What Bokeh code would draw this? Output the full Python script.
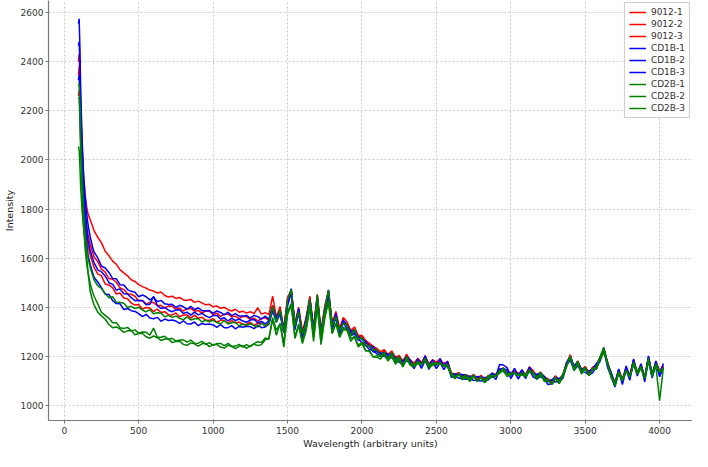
from bokeh.plotting import figure
from bokeh.models import Range1d, FixedTicker, Legend, LegendItem
from bokeh.embed import file_html
from bokeh.resources import INLINE

# ---- data ----
x_head = [95, 100, 105, 110, 120, 130, 140, 150, 160, 175, 190, 200]
x_tail = list(range(225, 4026, 25))
wavelength = x_head + x_tail

s9012_1 = [2400, 2430, 2330, 2200, 2050, 1930, 1860, 1810, 1780, 1755, 1730, 1712,
    1685, 1662, 1628, 1610, 1588, 1575, 1552, 1540, 1528, 1512,
    1505, 1492, 1484, 1478, 1470, 1466, 1458, 1462, 1448, 1442,
    1445, 1436, 1440, 1430, 1428, 1432, 1420, 1425, 1418, 1410,
    1412, 1402, 1405, 1396, 1400, 1390, 1385, 1392, 1380, 1384,
    1376, 1382, 1374, 1398, 1372, 1378, 1370,
    1445, 1360, 1403, 1312, 1440, 1470, 1335, 1400, 1303, 1359,
    1445, 1316, 1452, 1305, 1403, 1468, 1335, 1383, 1315, 1358,
    1340, 1305, 1320, 1285, 1285, 1265, 1252, 1242, 1232, 1219,
    1227, 1207, 1222, 1197, 1202, 1182, 1205, 1185, 1172, 1192,
    1175, 1200, 1170, 1186, 1175, 1190, 1166, 1180, 1133, 1128,
    1132, 1120, 1126, 1116, 1123, 1113, 1117, 1110, 1120, 1130,
    1125, 1143, 1150, 1135, 1130, 1146, 1125, 1142, 1125, 1158,
    1142, 1120, 1136, 1115, 1105, 1099, 1118, 1105, 1125, 1174,
    1204, 1156, 1181, 1145, 1156, 1135, 1150, 1166, 1196, 1233,
    1175, 1127, 1092, 1145, 1105, 1155, 1120, 1185, 1135, 1167,
    1115, 1194, 1130, 1177, 1137, 1164]

s9012_2 = [2345, 2380, 2290, 2150, 1990, 1870, 1790, 1735, 1695, 1655, 1625, 1605,
    1586, 1555, 1543, 1517, 1514, 1502, 1479, 1472, 1455, 1453,
    1445, 1425, 1428, 1413, 1420, 1419, 1406, 1408, 1397, 1405,
    1404, 1391, 1397, 1384, 1394, 1395, 1384, 1387, 1376, 1385,
    1384, 1370, 1376, 1363, 1372, 1373, 1361, 1364, 1354, 1363,
    1362, 1350, 1356, 1344, 1355, 1357, 1347,
    1405, 1358, 1387, 1310, 1432, 1466, 1334, 1391, 1296, 1348,
    1435, 1313, 1442, 1300, 1397, 1461, 1334, 1371, 1311, 1343,
    1330, 1303, 1307, 1280, 1284, 1251, 1254, 1234, 1231, 1208,
    1220, 1208, 1212, 1195, 1204, 1171, 1209, 1181, 1171, 1185,
    1170, 1203, 1162, 1186, 1177, 1181, 1172, 1176, 1132, 1119,
    1127, 1123, 1118, 1116, 1126, 1104, 1122, 1106, 1122, 1124,
    1121, 1149, 1146, 1136, 1133, 1137, 1130, 1138, 1127, 1147,
    1131, 1124, 1128, 1116, 1108, 1091, 1120, 1102, 1127, 1167,
    1199, 1159, 1173, 1146, 1158, 1127, 1155, 1162, 1197, 1227,
    1171, 1131, 1086, 1146, 1108, 1147, 1125, 1182, 1137, 1161,
    1111, 1199, 1123, 1178, 1140, 1157]

s9012_3 = [2260, 2285, 2210, 2080, 1920, 1810, 1740, 1690, 1650, 1612, 1582, 1562,
    1536, 1528, 1495, 1491, 1479, 1454, 1458, 1438, 1435, 1417,
    1409, 1411, 1393, 1399, 1397, 1382, 1393, 1379, 1382, 1370,
    1369, 1377, 1361, 1369, 1369, 1356, 1368, 1356, 1359, 1348,
    1346, 1354, 1339, 1347, 1347, 1334, 1347, 1336, 1340, 1330,
    1330, 1339, 1326, 1335, 1336, 1324, 1338,
    1409, 1344, 1391, 1296, 1428, 1466, 1331, 1383, 1290, 1342,
    1439, 1299, 1446, 1286, 1393, 1461, 1331, 1363, 1305, 1337,
    1334, 1289, 1311, 1266, 1280, 1251, 1251, 1226, 1225, 1202,
    1224, 1194, 1216, 1181, 1200, 1171, 1206, 1173, 1165, 1179,
    1174, 1189, 1166, 1172, 1173, 1181, 1169, 1168, 1130, 1117,
    1135, 1113, 1126, 1106, 1126, 1108, 1123, 1102, 1120, 1122,
    1129, 1139, 1154, 1126, 1133, 1141, 1131, 1134, 1125, 1145,
    1139, 1114, 1136, 1106, 1108, 1095, 1121, 1098, 1125, 1165,
    1207, 1149, 1181, 1136, 1158, 1131, 1156, 1158, 1195, 1225,
    1179, 1121, 1094, 1136, 1108, 1151, 1126, 1178, 1135, 1159,
    1119, 1189, 1131, 1168, 1140, 1161]

cd1b_1 = [2555, 2575, 2460, 2290, 2080, 1940, 1850, 1785, 1735, 1685, 1645, 1625,
    1601, 1568, 1560, 1542, 1517, 1516, 1492, 1491, 1472, 1465,
    1461, 1443, 1450, 1443, 1430, 1440, 1423, 1428, 1414, 1411,
    1412, 1399, 1408, 1402, 1392, 1404, 1390, 1398, 1386, 1386,
    1387, 1375, 1385, 1379, 1369, 1380, 1366, 1374, 1364, 1364,
    1367, 1356, 1367, 1362, 1352, 1364, 1351,
    1400, 1357, 1387, 1309, 1417, 1476, 1323, 1395, 1284, 1353,
    1430, 1312, 1442, 1299, 1382, 1471, 1323, 1375, 1299, 1348,
    1325, 1302, 1307, 1279, 1269, 1261, 1243, 1238, 1219, 1213,
    1215, 1207, 1212, 1194, 1189, 1181, 1198, 1185, 1159, 1190,
    1165, 1202, 1162, 1185, 1162, 1191, 1161, 1180, 1124, 1128,
    1126, 1126, 1122, 1119, 1115, 1118, 1115, 1114, 1114, 1133,
    1120, 1167, 1165, 1154, 1122, 1151, 1123, 1146, 1119, 1156,
    1130, 1127, 1132, 1119, 1097, 1105, 1113, 1110, 1119, 1176,
    1198, 1162, 1177, 1149, 1147, 1141, 1148, 1170, 1189, 1236,
    1170, 1134, 1090, 1149, 1097, 1161, 1118, 1190, 1129, 1170,
    1110, 1202, 1127, 1181, 1129, 1171]

cd1b_2 = [2465, 2480, 2390, 2230, 2025, 1885, 1790, 1722, 1672, 1630, 1600, 1582,
    1552, 1544, 1527, 1500, 1493, 1470, 1474, 1455, 1454, 1439,
    1427, 1429, 1427, 1410, 1412, 1445, 1408, 1395, 1399, 1388,
    1382, 1389, 1390, 1375, 1380, 1368, 1380, 1369, 1375, 1365,
    1358, 1366, 1367, 1352, 1357, 1344, 1356, 1346, 1352, 1344,
    1339, 1348, 1350, 1337, 1343, 1332, 1346,
    1401, 1349, 1377, 1296, 1425, 1458, 1322, 1375, 1288, 1344,
    1431, 1304, 1432, 1286, 1390, 1453, 1322, 1355, 1303, 1339,
    1326, 1294, 1297, 1266, 1277, 1243, 1242, 1218, 1223, 1204,
    1216, 1199, 1202, 1181, 1197, 1163, 1197, 1165, 1163, 1181,
    1166, 1194, 1152, 1172, 1170, 1173, 1160, 1160, 1128, 1119,
    1127, 1118, 1112, 1106, 1123, 1100, 1114, 1094, 1118, 1124,
    1121, 1144, 1140, 1126, 1130, 1133, 1122, 1126, 1123, 1147,
    1131, 1119, 1122, 1106, 1105, 1087, 1112, 1090, 1123, 1167,
    1199, 1154, 1167, 1136, 1155, 1123, 1147, 1150, 1193, 1227,
    1171, 1126, 1080, 1136, 1105, 1143, 1117, 1170, 1133, 1161,
    1111, 1194, 1117, 1168, 1137, 1153]

cd1b_3 = [2325, 2345, 2265, 2125, 1950, 1820, 1730, 1662, 1612, 1572, 1542, 1522,
    1503, 1480, 1454, 1452, 1427, 1415, 1414, 1391, 1395, 1386,
    1383, 1374, 1362, 1371, 1356, 1353, 1359, 1343, 1352, 1346,
    1348, 1344, 1334, 1345, 1333, 1332, 1340, 1325, 1334, 1330,
    1332, 1328, 1318, 1330, 1317, 1317, 1325, 1312, 1322, 1319,
    1323, 1321, 1313, 1327, 1317, 1320, 1331,
    1386, 1339, 1372, 1300, 1405, 1460, 1308, 1382, 1275, 1343,
    1416, 1294, 1427, 1290, 1370, 1455, 1308, 1362, 1290, 1338,
    1311, 1284, 1292, 1270, 1257, 1245, 1228, 1225, 1210, 1203,
    1201, 1189, 1197, 1185, 1177, 1165, 1183, 1172, 1150, 1180,
    1151, 1184, 1147, 1176, 1150, 1175, 1146, 1167, 1115, 1118,
    1112, 1108, 1107, 1110, 1103, 1102, 1100, 1101, 1105, 1123,
    1106, 1149, 1150, 1145, 1110, 1135, 1108, 1133, 1110, 1146,
    1116, 1109, 1117, 1110, 1085, 1089, 1098, 1097, 1110, 1166,
    1184, 1144, 1162, 1140, 1135, 1125, 1133, 1157, 1180, 1226,
    1156, 1116, 1075, 1140, 1085, 1145, 1103, 1177, 1120, 1160,
    1096, 1184, 1112, 1172, 1117, 1155]

cd2b_1 = [2300, 2310, 2235, 2100, 1925, 1790, 1700, 1640, 1598, 1560, 1530, 1512,
    1487, 1477, 1455, 1439, 1443, 1421, 1420, 1416, 1399, 1404,
    1395, 1400, 1389, 1381, 1390, 1374, 1378, 1377, 1361, 1367,
    1359, 1365, 1355, 1349, 1361, 1348, 1353, 1354, 1340, 1347,
    1341, 1347, 1338, 1333, 1345, 1332, 1337, 1339, 1324, 1332,
    1326, 1333, 1325, 1320, 1335, 1324, 1333,
    1403, 1339, 1390, 1298, 1426, 1472, 1324, 1382, 1292, 1340,
    1433, 1294, 1452, 1288, 1391, 1470, 1324, 1362, 1307, 1335,
    1328, 1284, 1310, 1268, 1278, 1242, 1244, 1225, 1227, 1200,
    1218, 1189, 1215, 1183, 1198, 1162, 1199, 1172, 1167, 1177,
    1168, 1184, 1165, 1174, 1171, 1172, 1162, 1167, 1132, 1115,
    1129, 1108, 1125, 1108, 1124, 1099, 1116, 1101, 1122, 1120,
    1123, 1134, 1153, 1128, 1131, 1132, 1124, 1133, 1127, 1143,
    1133, 1109, 1135, 1108, 1106, 1086, 1114, 1097, 1127, 1163,
    1201, 1144, 1180, 1138, 1156, 1122, 1149, 1157, 1197, 1236,
    1173, 1116, 1093, 1138, 1106, 1142, 1119, 1177, 1137, 1157,
    1113, 1184, 1130, 1170, 1138, 1152]

cd2b_2 = [2255, 2250, 2160, 2030, 1860, 1730, 1640, 1580, 1540, 1495, 1462, 1445,
    1414, 1379, 1367, 1355, 1337, 1337, 1317, 1314, 1318, 1304,
    1308, 1294, 1299, 1298, 1287, 1315, 1278, 1278, 1282, 1269,
    1274, 1262, 1267, 1267, 1258, 1266, 1253, 1254, 1261, 1249,
    1256, 1245, 1252, 1253, 1244, 1253, 1240, 1242, 1249, 1238,
    1248, 1240, 1252, 1260, 1257, 1275, 1270,
    1358, 1306, 1334, 1253, 1382, 1415, 1279, 1332, 1260, 1316,
    1403, 1276, 1404, 1258, 1362, 1425, 1294, 1335, 1283, 1319,
    1306, 1274, 1277, 1246, 1257, 1223, 1222, 1198, 1203, 1198,
    1210, 1193, 1196, 1175, 1191, 1157, 1191, 1164, 1162, 1180,
    1165, 1193, 1151, 1171, 1169, 1172, 1159, 1159, 1127, 1118,
    1126, 1117, 1111, 1105, 1122, 1099, 1113, 1093, 1117, 1123,
    1120, 1143, 1139, 1125, 1129, 1132, 1121, 1125, 1122, 1146,
    1130, 1118, 1121, 1105, 1104, 1086, 1111, 1089, 1122, 1166,
    1198, 1153, 1166, 1135, 1154, 1122, 1146, 1149, 1192, 1226,
    1170, 1125, 1079, 1135, 1104, 1142, 1116, 1169, 1132, 1160,
    1110, 1193, 1116, 1167, 1136, 1152]

cd2b_3 = [2055, 2040, 1975, 1890, 1790, 1720, 1665, 1610, 1540, 1462, 1428, 1410,
    1380, 1365, 1351, 1330, 1317, 1320, 1311, 1298, 1304, 1305,
    1288, 1293, 1293, 1280, 1274, 1283, 1276, 1265, 1271, 1272,
    1256, 1261, 1262, 1249, 1245, 1255, 1251, 1242, 1251, 1253,
    1240, 1247, 1249, 1238, 1234, 1245, 1241, 1232, 1241, 1244,
    1233, 1243, 1250, 1244, 1248, 1268, 1274,
    1351, 1286, 1333, 1238, 1370, 1408, 1273, 1325, 1252, 1304,
    1401, 1261, 1408, 1248, 1355, 1423, 1293, 1335, 1277, 1309,
    1306, 1261, 1283, 1238, 1252, 1223, 1223, 1198, 1197, 1189,
    1211, 1181, 1203, 1168, 1187, 1158, 1193, 1165, 1157, 1171,
    1166, 1181, 1158, 1164, 1165, 1173, 1161, 1160, 1122, 1109,
    1127, 1105, 1118, 1098, 1118, 1100, 1115, 1094, 1112, 1114,
    1121, 1131, 1146, 1118, 1125, 1133, 1123, 1126, 1117, 1137,
    1131, 1106, 1128, 1098, 1100, 1087, 1113, 1090, 1117, 1157,
    1199, 1141, 1173, 1128, 1150, 1123, 1148, 1150, 1187, 1217,
    1171, 1113, 1086, 1128, 1100, 1143, 1118, 1170, 1127, 1151,
    1111, 1181, 1123, 1160, 1020, 1153]

series_names = ["9012-1", "9012-2", "9012-3", "CD1B-1", "CD1B-2", "CD1B-3",
                "CD2B-1", "CD2B-2", "CD2B-3"]
series_values = [s9012_1, s9012_2, s9012_3, cd1b_1, cd1b_2, cd1b_3,
                 cd2b_1, cd2b_2, cd2b_3]
series_colors = ["red", "red", "red", "blue", "blue", "blue",
                 "green", "green", "green"]

x_ticks = [0, 500, 1000, 1500, 2000, 2500, 3000, 3500, 4000]
y_ticks = [1000, 1200, 1400, 1600, 1800, 2000, 2200, 2400, 2600]

FONT = "DejaVu Sans"

p = figure(width=692, height=451, output_backend="svg", toolbar_location=None,
           x_range=Range1d(-106, 4221), y_range=Range1d(939, 2649),
           min_border_left=2, min_border_right=0, min_border_top=0, min_border_bottom=2)

items = []
for name, vals, col in zip(series_names, series_values, series_colors):
    n = min(len(wavelength), len(vals))
    r = p.line(wavelength[:n], vals[:n], line_color=col, line_width=1.5)
    items.append(LegendItem(label=name, renderers=[r]))

legend = Legend(items=items, location="top_right",
                label_text_font=FONT, label_text_font_size="9px",
                label_text_color="#333333",
                label_height=10, glyph_height=10, glyph_width=17,
                spacing=2, padding=4, margin=2,
                border_line_color="#cccccc", border_line_alpha=1.0,
                background_fill_alpha=0.85, label_standoff=5)
p.add_layout(legend)

p.outline_line_color = None
p.background_fill_color = "white"

p.xaxis.ticker = FixedTicker(ticks=x_ticks)
p.yaxis.ticker = FixedTicker(ticks=y_ticks)
for ax in (p.xaxis[0], p.yaxis[0]):
    ax.axis_line_color = "#777777"
    ax.axis_line_width = 1.2
    ax.major_tick_in = 0
    ax.major_tick_out = 3
    ax.major_tick_line_color = "#777777"
    ax.minor_tick_line_color = None
    ax.major_label_text_font = FONT
    ax.major_label_text_font_size = "9px"
    ax.major_label_text_color = "#333333"
    ax.axis_label_text_font = FONT
    ax.axis_label_text_font_size = "9.5px"
    ax.axis_label_text_font_style = "normal"
    ax.axis_label_text_color = "#222222"
p.xaxis.axis_label = "Wavelength (arbitrary units)"
p.yaxis.axis_label = "Intensity"
p.xaxis.axis_label_standoff = 1
p.yaxis.axis_label_standoff = 3
p.xaxis.major_label_standoff = 3
p.yaxis.major_label_standoff = 2

p.grid.grid_line_color = "#cccccc"
p.grid.grid_line_dash = "2 2"
p.grid.grid_line_width = 1

open("out.html", "w").write(file_html(p, INLINE))
